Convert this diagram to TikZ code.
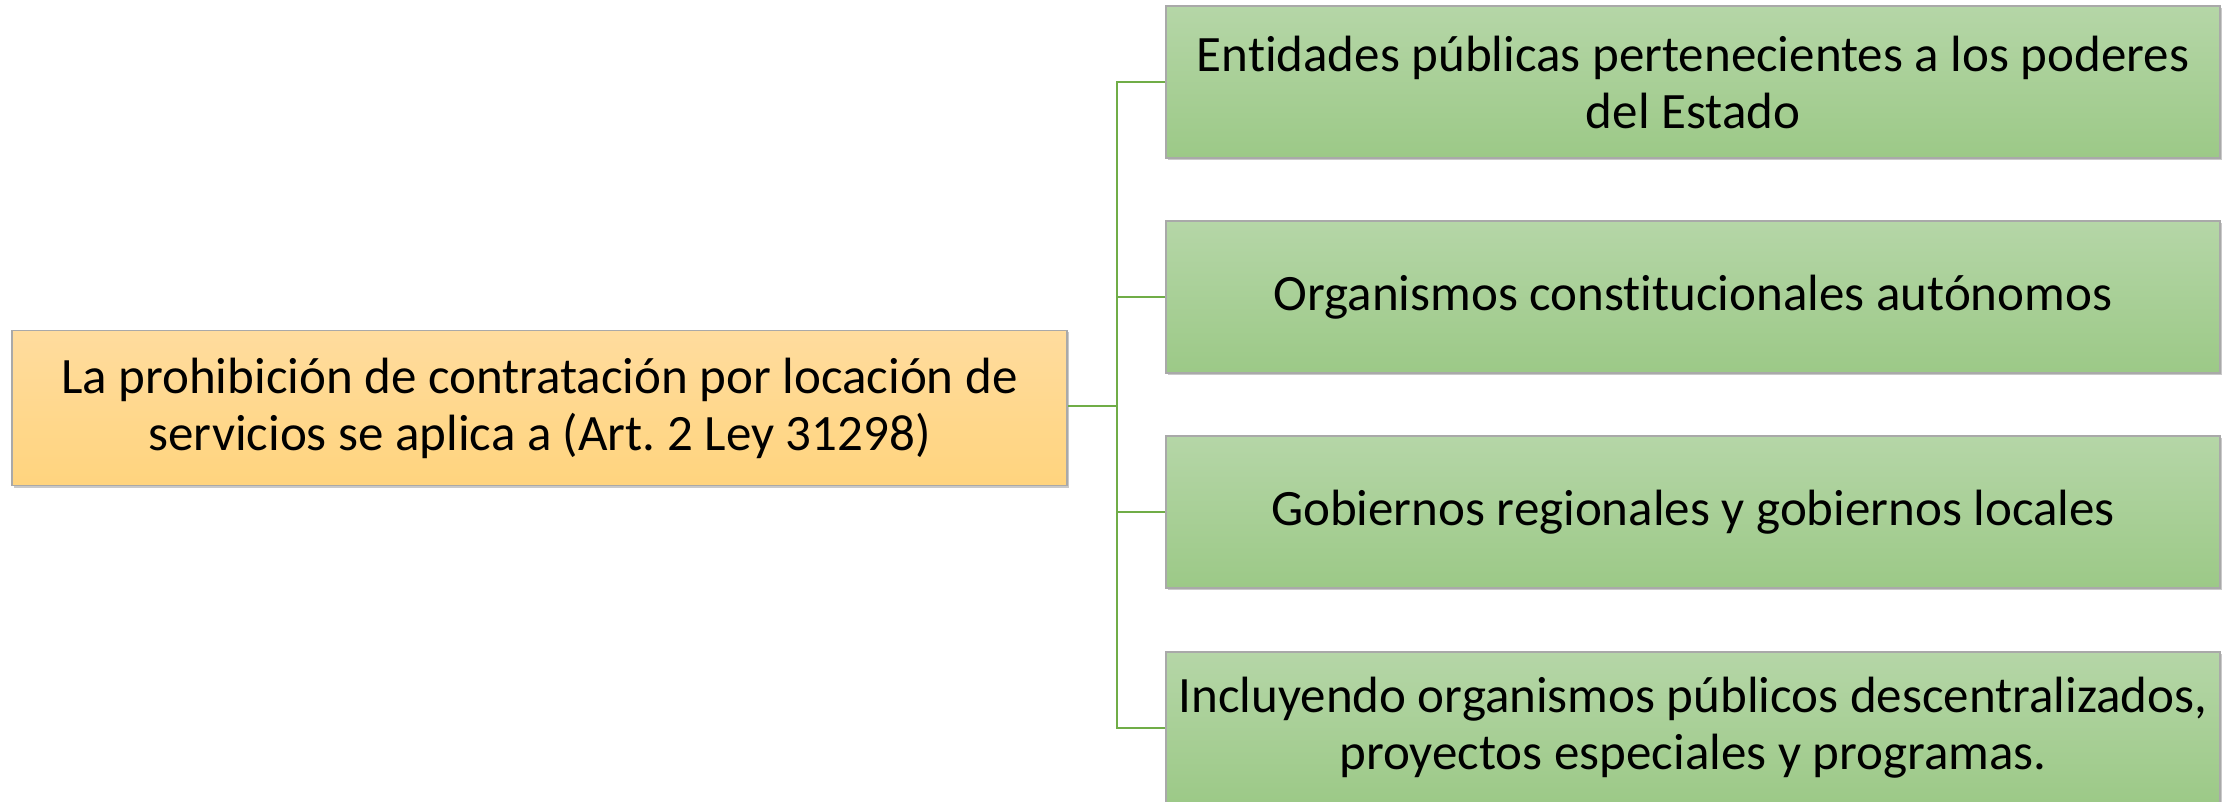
\documentclass[tikz,border=0pt]{standalone}
\usepackage{fontspec}
\setmainfont{Carlito}[Ligatures=NoCommon]
\usetikzlibrary{shadows}
\frenchspacing
\definecolor{otop}{HTML}{FFDC9E}
\definecolor{obot}{HTML}{FFD47E}
\definecolor{gtop}{HTML}{B5D6A7}
\definecolor{gbot}{HTML}{9CC987}
\definecolor{edge}{HTML}{A9A9A9}
\definecolor{link}{HTML}{70AD47}
\tikzset{
  box/.style={draw=edge, line width=1.5pt, rectangle, align=center, inner sep=0pt,
    font=\fontsize{51}{57}\selectfont, text=black,
    drop shadow={shadow xshift=2pt, shadow yshift=-2pt, fill=black!35, opacity=0.6}},
  rootbox/.style={box, top color=otop, bottom color=obot, minimum width=1055pt, minimum height=155pt},
  leafbox/.style={box, top color=gtop, bottom color=gbot, minimum width=1054pt, minimum height=152pt},
  conn/.style={draw=link, line width=2pt}
}
\begin{document}
\begin{tikzpicture}[x=1pt,y=-1pt]
\useasboundingbox (0,0) rectangle (2233,802);
\fill[white] (0,0) rectangle (2233,802);
\node[rootbox] (root) at (539.5,408) {La prohibición de contratación por locación de\\servicios se aplica a (Art.\ 2 Ley 31298)};
\node[leafbox] (a) at (1693,82) {Entidades públicas pertenecientes a los poderes\\del Estado};
\node[leafbox] (b) at (1693,297) {Organismos constitucionales autónomos};
\node[leafbox] (c) at (1693,512) {Gobiernos regionales y gobiernos locales};
\node[leafbox] (d) at (1693,728) {Incluyendo organismos públicos descentralizados,\\proyectos especiales y programas.};
\coordinate (j) at (1117,405.5);
\draw[conn] (root.east |- j) -- (j);
\draw[conn] (a.west) -| (j);
\draw[conn] (d.west) -| (j);
\draw[conn] (b.west) -- (b.west -| j);
\draw[conn] (c.west) -- (c.west -| j);
\end{tikzpicture}
\end{document}
